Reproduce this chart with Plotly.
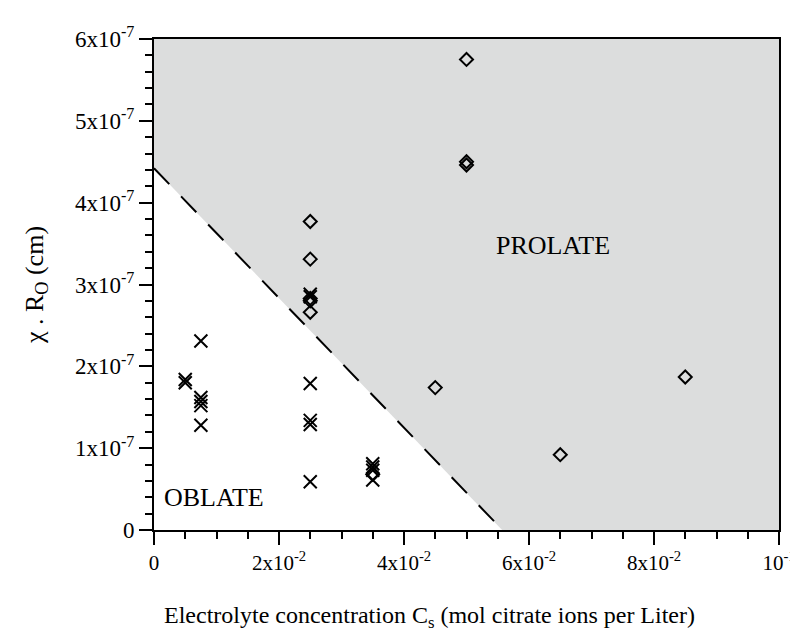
import plotly.graph_objects as go

# ---- data ----
# Prolate (open diamonds)
prolate_x = [0.025, 0.025, 0.025, 0.025, 0.025, 0.035, 0.045, 0.05, 0.05, 0.05, 0.065, 0.085]
prolate_y = [3.77e-7, 3.31e-7, 2.83e-7, 2.80e-7, 2.66e-7, 0.68e-7, 1.74e-7, 5.75e-7, 4.50e-7, 4.46e-7, 0.92e-7, 1.87e-7]

# Oblate (crosses)
oblate_x = [0.005, 0.005, 0.0075, 0.0075, 0.0075, 0.0075, 0.0075,
            0.025, 0.025, 0.025, 0.025, 0.025, 0.025,
            0.035, 0.035, 0.035, 0.035]
oblate_y = [1.80e-7, 1.84e-7, 2.31e-7, 1.62e-7, 1.57e-7, 1.52e-7, 1.28e-7,
            2.88e-7, 2.85e-7, 1.79e-7, 1.34e-7, 1.29e-7, 0.59e-7,
            0.81e-7, 0.77e-7, 0.73e-7, 0.61e-7]

# Boundary between oblate and prolate regions
boundary_x = [0.0, 0.0545]
boundary_y = [4.42e-7, 0.10e-7]
region_x = [0.0, 0.0557, 0.1, 0.1, 0.0, 0.0]
region_y = [4.42e-7, 0.0, 0.0, 6e-7, 6e-7, 4.42e-7]

x_ticks = [0, 0.02, 0.04, 0.06, 0.08, 0.1]
x_ticktext = ["0", "2x10<sup>-2</sup>", "4x10<sup>-2</sup>", "6x10<sup>-2</sup>",
              "8x10<sup>-2</sup>", "10<sup>-1</sup>"]
y_ticks = [0, 1e-7, 2e-7, 3e-7, 4e-7, 5e-7, 6e-7]
y_ticktext = ["0", "1x10<sup>-7</sup>", "2x10<sup>-7</sup>", "3x10<sup>-7</sup>",
              "4x10<sup>-7</sup>", "5x10<sup>-7</sup>", "6x10<sup>-7</sup>"]

x_title = "Electrolyte concentration C<sub>s</sub> (mol citrate ions per Liter)"
y_title = "χ . R<sub>O</sub> (cm)"

FONT = "Liberation Serif, Times New Roman, serif"

fig = go.Figure()
fig.add_trace(go.Scatter(x=region_x, y=region_y, fill="toself", fillcolor="#dcdddd",
                         mode="lines", line=dict(width=0), hoverinfo="skip", showlegend=False))
fig.add_trace(go.Scatter(x=boundary_x, y=boundary_y, mode="lines",
                         line=dict(color="black", width=2, dash="22px,17px"), showlegend=False))
fig.add_trace(go.Scatter(x=prolate_x, y=prolate_y, mode="markers",
                         marker=dict(symbol="diamond-open", size=10, color="black",
                                     line=dict(width=2, color="black")), showlegend=False))
fig.add_trace(go.Scatter(x=oblate_x, y=oblate_y, mode="markers",
                         marker=dict(symbol="x-thin-open", size=13, color="black",
                                     line=dict(width=2, color="black")), showlegend=False))

fig.add_annotation(x=0.0638, y=3.48e-7, text="PROLATE", showarrow=False,
                   font=dict(family=FONT, size=26, color="black"))
fig.add_annotation(x=0.0096, y=0.40e-7, text="OBLATE", showarrow=False,
                   font=dict(family=FONT, size=26, color="black"))
fig.add_annotation(xref="paper", yref="paper", x=0.44, y=-0.178, xanchor="center",
                   yanchor="middle", text=x_title, showarrow=False,
                   font=dict(family=FONT, size=24, color="black"))

x_minor = [i * 0.005 for i in range(21)]
y_minor = [i * 0.2e-7 for i in range(31)]

fig.update_xaxes(range=[0, 0.1], tickmode="array", tickvals=x_ticks, ticktext=x_ticktext,
                 ticks="outside", ticklen=13, tickwidth=2, tickcolor="black",
                 showline=True, linewidth=2, linecolor="black", mirror=True,
                 showgrid=False, zeroline=False, automargin=False,
                 minor=dict(tickmode="array", tickvals=x_minor, ticks="outside",
                            ticklen=7, tickwidth=2, tickcolor="black", showgrid=False),
                 tickfont=dict(family=FONT, size=21, color="black"))
fig.update_yaxes(range=[0, 6e-7], tickmode="array", tickvals=y_ticks, ticktext=y_ticktext,
                 ticks="outside", ticklen=13, tickwidth=2, tickcolor="black",
                 showline=True, linewidth=2, linecolor="black", mirror=True,
                 showgrid=False, zeroline=False, automargin=False,
                 minor=dict(tickmode="array", tickvals=y_minor, ticks="outside",
                            ticklen=7, tickwidth=2, tickcolor="black", showgrid=False),
                 tickfont=dict(family=FONT, size=23, color="black"),
                 title=dict(text=y_title,
                            font=dict(family=FONT, size=26, color="black"), standoff=24))

fig.update_layout(width=798, height=632, plot_bgcolor="white", paper_bgcolor="white",
                  margin=dict(l=146, r=27, t=31, b=110), showlegend=False)

fig.write_html("out.html")
